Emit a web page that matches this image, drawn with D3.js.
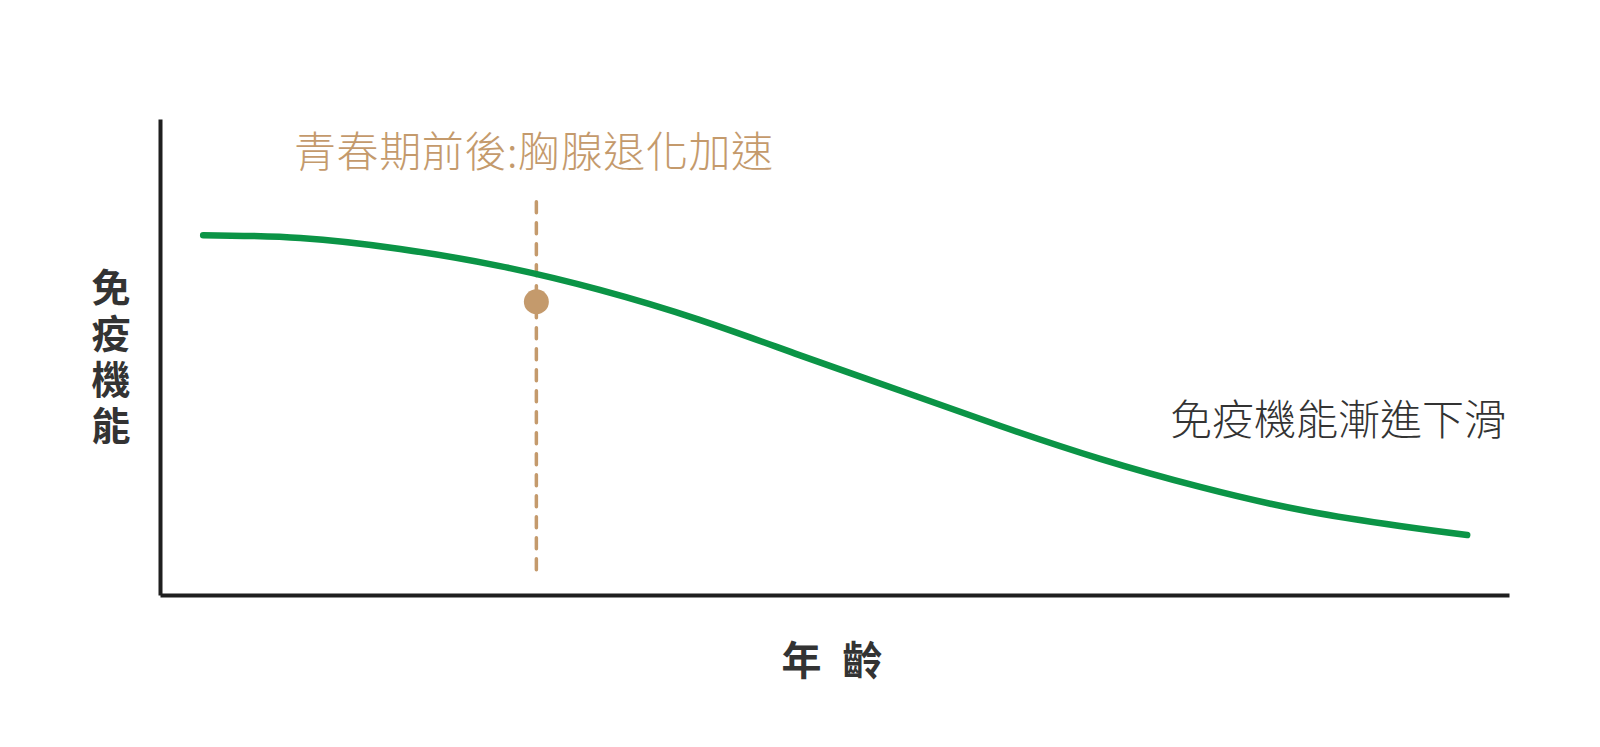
<!DOCTYPE html>
<html><head><meta charset="utf-8">
<script src="https://cdn.jsdelivr.net/npm/d3@7"></script>
<style>
html,body{margin:0;padding:0;background:#fff;}
svg{display:block;font-family:"Noto Sans CJK TC","Noto Sans CJK SC",sans-serif;}
</style></head><body>
<svg id="chart" width="1600" height="747"></svg>
<script>
// ---- data ----
const ages = [3.2, 10.4, 17.8, 25.2, 32.6, 40.0, 47.4, 54.9, 62.3, 69.7, 77.1, 84.5, 91.9, 96.9];
const immune = [75.6, 75.0, 72.7, 69.1, 64.1, 57.8, 50.4, 42.9, 35.5, 28.6, 22.7, 17.9, 14.5, 12.6];
const markerAge = [27.9];
const markerValue = [61.6];
const markerRange = [3.6, 82.6];
const annotationText = ["青春期前後:胸腺退化加速"];
const trendText = ["免疫機能漸進下滑"];
const yLabelText = ["免疫機能"];
const xLabelText = ["年 齡"];

const svg = d3.select("#chart");
const x = d3.scaleLinear().domain([0, 100]).range([160, 1509]);
const y = d3.scaleLinear().domain([0, 100]).range([595, 119]);

// axes (no ticks)
svg.append("g").attr("transform", `translate(0,${y(0)})`)
  .call(d3.axisBottom(x).tickValues([]).tickSizeOuter(0))
  .call(g => g.select(".domain").attr("stroke", "#1f1f1f").attr("stroke-width", 4));
svg.append("g").attr("transform", `translate(${x(0)},0)`)
  .call(d3.axisLeft(y).tickValues([]).tickSizeOuter(0))
  .call(g => g.select(".domain").attr("stroke", "#1f1f1f").attr("stroke-width", 4));

// dashed marker line
svg.append("line")
  .attr("x1", x(markerAge[0])).attr("x2", x(markerAge[0]))
  .attr("y1", y(markerRange[1])).attr("y2", y(markerRange[0]))
  .attr("stroke", "#c49a6c").attr("stroke-width", 3.5)
  .attr("stroke-dasharray", "11,10").attr("stroke-linecap", "round");

// curve
const data = ages.map((a, i) => ({a, v: immune[i]}));
svg.append("path").datum(data)
  .attr("fill", "none").attr("stroke", "#0b9446").attr("stroke-width", 6.5)
  .attr("stroke-linecap", "round")
  .attr("d", d3.line().x(d => x(d.a)).y(d => y(d.v)).curve(d3.curveNatural));

// marker dot
svg.append("circle")
  .attr("cx", x(markerAge[0])).attr("cy", y(markerValue[0])).attr("r", 12.5)
  .attr("fill", "#c49a6c");

// annotation text
svg.append("text").attr("x", 294).attr("y", 148)
  .attr("dominant-baseline", "central")
  .attr("font-size", 42).attr("fill", "#c49a6c").attr("font-weight", 300)
  .attr("letter-spacing", 0.6)
  .text(annotationText[0]);

svg.append("text").attr("x", 1170).attr("y", 416)
  .attr("dominant-baseline", "central")
  .attr("font-size", 42).attr("fill", "#333").attr("font-weight", 300)
  .text(trendText[0]);

// y label vertical
svg.append("text")
  .attr("x", 111).attr("y", 268)
  .style("writing-mode", "vertical-rl")
  .attr("text-anchor", "start")
  .attr("font-size", 39).attr("font-weight", 700).attr("fill", "#333")
  .attr("letter-spacing", 7)
  .text(yLabelText[0]);

// x label
svg.append("text").attr("x", 835).attr("y", 658)
  .attr("text-anchor", "middle").attr("dominant-baseline", "central")
  .attr("font-size", 40).attr("font-weight", 700).attr("fill", "#333")
  .attr("letter-spacing", 6)
  .attr("xml:space", "preserve")
  .text(xLabelText[0]);
</script>
</body></html>
